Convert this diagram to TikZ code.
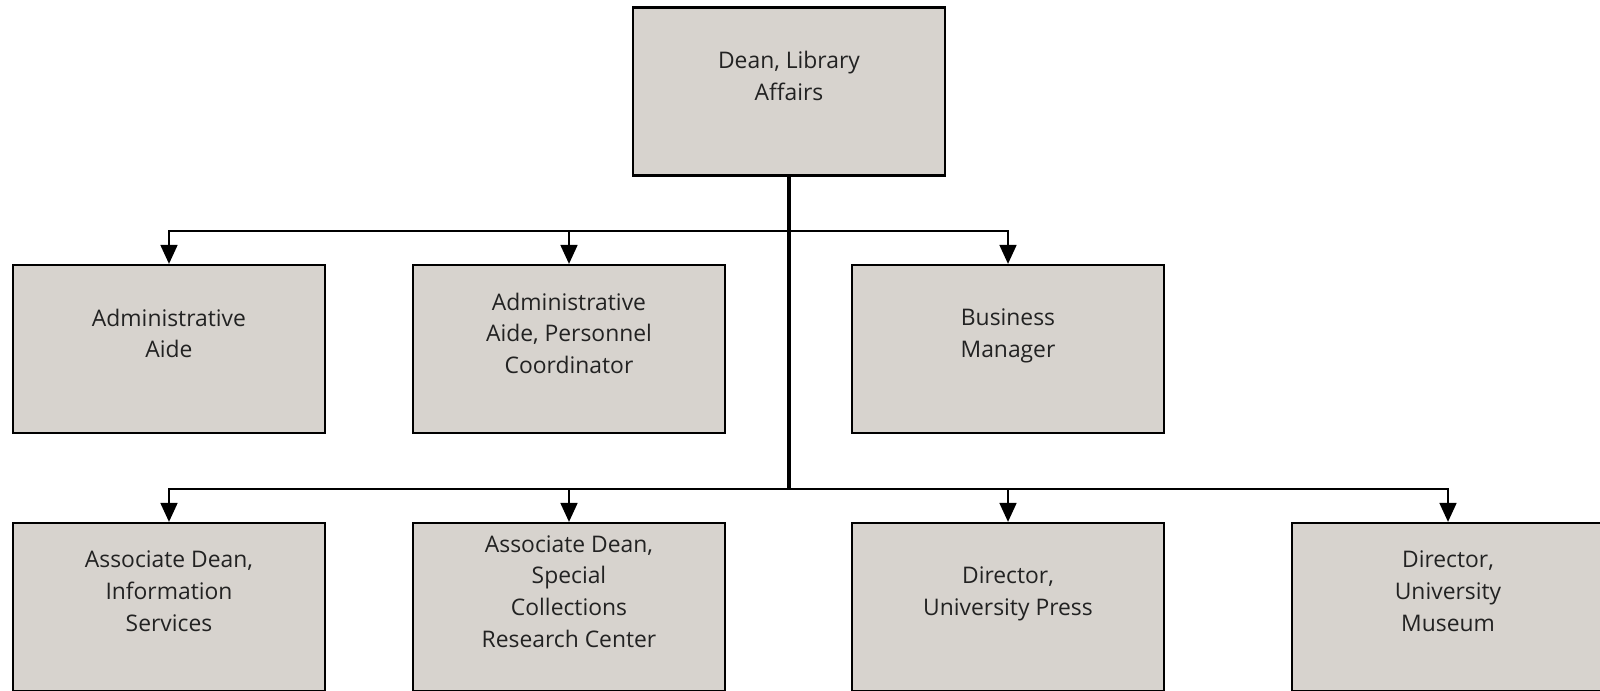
\documentclass[tikz,border=0pt]{standalone}
\usepackage{fontspec}
\setmainfont{Open Sans}
\usetikzlibrary{arrows.meta}
\definecolor{boxgray}{RGB}{215,211,206}
\definecolor{inkgray}{RGB}{34,34,34}

\begin{document}
\begin{tikzpicture}[
		x=0.01cm, y=-0.01cm,
		unit/.style={rectangle, draw, line width=0.6pt, fill=boxgray, minimum width=3.12cm, minimum height=1.68cm},
		title/.style={align=center, text=inkgray, font=\fontsize{6.5}{9}\selectfont,
			execute at begin node=\strut, execute at end node=\strut},
		link/.style={-{Triangle[length=5.4pt,width=4.8pt]}, line width=0.6pt},
		trunk/.style={line width=1.1pt}
	]
		\useasboundingbox (0,0) rectangle (1600,691);
		
		% Dean
		\node[unit] (dean) at (789,91.5) {};
		\node[title] (deantxt) at (789,80.5) {Dean, Library\\Affairs};
		
		% Staff row
		\node[unit] (aide) at (169,349) {};
		\node[title] (aidetxt) at (169,338) {Administrative\\Aide};
		\node[unit] (pers) at (569,349) {};
		\node[title] (perstxt) at (569,338) {Administrative\\Aide, Personnel\\Coordinator};
		\node[unit] (biz) at (1008,349) {};
		\node[title] (biztxt) at (1008,338) {Business\\Manager};
		
		% Unit heads row
		\node[unit] (info) at (169,607) {};
		\node[title] (infotxt) at (169,596) {Associate Dean,\\Information\\Services};
		\node[unit] (spec) at (569,607) {};
		\node[title] (spectxt) at (569,596) {Associate Dean,\\Special\\Collections\\Research Center};
		\node[unit] (press) at (1008,607) {};
		\node[title] (presstxt) at (1008,596) {Director,\\University Press};
		\node[unit] (museum) at (1448,607) {};
		\node[title] (museumtxt) at (1448,596) {Director,\\University\\Museum};
		
		% Junctions
		\coordinate (bus1) at (789,231);
		\coordinate (bus2) at (789,489);
		
		% Arrows
		\draw[trunk] (dean.south) -- (bus2);
		\draw[link] (bus1) -| (aide.north);
		\draw[link] (bus1) -| (pers.north);
		\draw[link] (bus1) -| (biz.north);
		\draw[link] (bus2) -| (info.north);
		\draw[link] (bus2) -| (spec.north);
		\draw[link] (bus2) -| (press.north);
		\draw[link] (bus2) -| (museum.north);
	\end{tikzpicture}
\end{document}
